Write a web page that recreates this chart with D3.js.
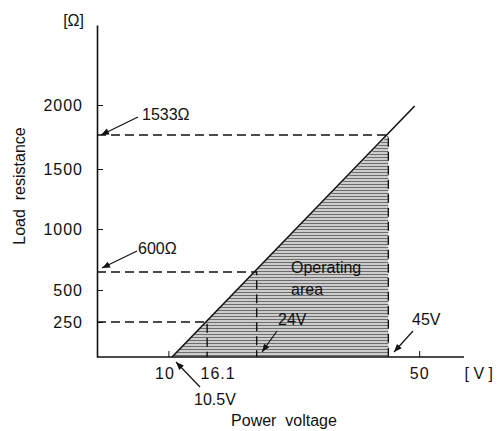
<!DOCTYPE html>
<html>
<head>
<meta charset="utf-8">
<script src="https://cdn.jsdelivr.net/npm/d3@7"></script>
<style>
  body { margin: 0; background: #fff; }
  text { font-family: "Liberation Sans", Arial, sans-serif; fill: #111; }
</style>
</head>
<body>
<svg id="chart" width="497" height="431"></svg>
<script>
// data
var yTicks = [250, 500, 1000, 1500, 2000];
var xTicks = [10, 50];
var xLabelValues = [10, 16.1, 50];
var xLabels = ["10", "16.1", "50"];
var curve = [{v: 10.5, r: 0}, {v: 49.2, r: 1985}];
var operating = [{v: 10.5, r: 0}, {v: 45, r: 1533}, {v: 45, r: 0}];
var marks = [{v: 16.1, r: 250}, {v: 24, r: 600}, {v: 45, r: 1533}];

var svg = d3.select("svg#chart");

// scales (the drawing is schematic, so y is piecewise)
var x = d3.scaleLinear().domain([0, 50]).range([106.2, 419.7]);
var y = d3.scaleLinear()
          .domain([0, 250, 500, 600, 1000, 1500, 1533, 2000, 2650])
          .range([357, 322, 290, 272, 229, 169, 135, 105, 25]);

var x0 = 97, y0 = y(0);

// defs: shading + arrow head
var defs = svg.append("defs");
var pat = defs.append("pattern")
              .attr("id", "shade")
              .attr("width", 3)
              .attr("height", 3)
              .attr("patternUnits", "userSpaceOnUse");
pat.append("rect").attr("width", 3).attr("height", 3).attr("fill", "#cdcdcd");
pat.append("line")
   .attr("x1", 0).attr("y1", 1.5).attr("x2", 3).attr("y2", 1.5)
   .attr("stroke", "#6e6e6e").attr("stroke-width", 1);

defs.append("marker")
    .attr("id", "arrow")
    .attr("viewBox", "0 -5 10 10")
    .attr("refX", 10)
    .attr("refY", 0)
    .attr("markerWidth", 10)
    .attr("markerHeight", 8)
    .attr("markerUnits", "userSpaceOnUse")
    .attr("orient", "auto")
    .append("path")
    .attr("d", "M0,-4L10,0L0,4Z")
    .attr("fill", "#111");

// operating area
svg.append("path")
   .datum(operating)
   .attr("d", d3.line().x(function(d) { return x(d.v); }).y(function(d) { return y(d.r); }))
   .attr("fill", "url(#shade)");

// dashed guides
svg.selectAll("path.guide")
   .data(marks)
   .enter().append("path")
   .attr("class", "guide")
   .attr("d", function(d) { return "M" + x0 + "," + y(d.r) + "H" + x(d.v) + "V" + y0; })
   .attr("fill", "none")
   .attr("stroke", "#111")
   .attr("stroke-width", 1.4)
   .attr("stroke-dasharray", "9,5");

// y axis
var yAxis = d3.axisLeft(y)
              .tickValues(yTicks)
              .tickFormat(d3.format("d"))
              .tickSize(-6)
              .tickSizeOuter(0)
              .tickPadding(14);
var gy = svg.append("g")
            .attr("transform", "translate(" + x0 + ",0)")
            .call(yAxis);
gy.select(".domain").attr("stroke", "#111").attr("stroke-width", 1.6);
gy.selectAll(".tick line").attr("stroke", "#111");
gy.selectAll(".tick text")
  .attr("font-size", 16)
  .attr("letter-spacing", 1)
  .style("font-family", "Liberation Sans, Arial, sans-serif")
  .attr("fill", "#111");

// x axis
svg.append("line")
   .attr("x1", x0).attr("y1", y0)
   .attr("x2", 464).attr("y2", y0)
   .attr("stroke", "#111")
   .attr("stroke-width", 1.6);

svg.selectAll("line.xtick")
   .data(xTicks)
   .enter().append("line")
   .attr("class", "xtick")
   .attr("x1", function(d) { return x(d); }).attr("x2", function(d) { return x(d); })
   .attr("y1", y0).attr("y2", y0 - 6)
   .attr("stroke", "#111");

svg.selectAll("text.xlab")
   .data(xLabelValues)
   .enter().append("text")
   .attr("class", "xlab")
   .attr("x", function(d) { return x(d) + (d === 16.1 ? 11 : d === 10 ? -4 : 0); })
   .attr("y", 379)
   .attr("text-anchor", "middle")
   .attr("font-size", 16)
   .attr("letter-spacing", 1)
   .text(function(d, i) { return xLabels[i]; });

// load line
svg.append("path")
   .datum(curve)
   .attr("d", d3.line().x(function(d) { return x(d.v); }).y(function(d) { return y(d.r); }))
   .attr("fill", "none")
   .attr("stroke", "#111")
   .attr("stroke-width", 1.6);

// unit labels + axis titles
svg.append("text").attr("x", 84).attr("y", 26).attr("text-anchor", "end")
   .attr("font-size", 16).text("[Ω]");
svg.append("text").attr("x", 493).attr("y", 379).attr("text-anchor", "end")
   .attr("font-size", 16).style("white-space", "pre").text("[ V ]");
svg.append("text").attr("x", 284).attr("y", 426).attr("text-anchor", "middle")
   .attr("font-size", 16).style("white-space", "pre").text("Power  voltage");
svg.append("text")
   .attr("transform", "translate(25,186) rotate(-90)")
   .attr("text-anchor", "middle")
   .attr("font-size", 16)
   .style("white-space", "pre")
   .text("Load  resistance");

// callouts
var callouts = [
  {t: "1533Ω", tx: 142, ty: 120, ax: 138, ay: 117, bx: 101, by: 135},
  {t: "600Ω",  tx: 138, ty: 254, ax: 137, ay: 251, bx: 102, by: 268},
  {t: "10.5V", tx: 194, ty: 405, ax: 200, ay: 387, bx: 176, by: 362},
  {t: "24V",   tx: 278, ty: 325, ax: 277, ay: 331, bx: 262, by: 352},
  {t: "45V",   tx: 412, ty: 325, ax: 413, ay: 331, bx: 394, by: 352}
];

svg.selectAll("line.callout")
   .data(callouts)
   .enter().append("line")
   .attr("class", "callout")
   .attr("x1", function(d) { return d.ax; }).attr("y1", function(d) { return d.ay; })
   .attr("x2", function(d) { return d.bx; }).attr("y2", function(d) { return d.by; })
   .attr("stroke", "#111")
   .attr("stroke-width", 1.2)
   .attr("marker-end", "url(#arrow)");

svg.selectAll("text.callout")
   .data(callouts)
   .enter().append("text")
   .attr("class", "callout")
   .attr("x", function(d) { return d.tx; })
   .attr("y", function(d) { return d.ty; })
   .attr("font-size", 16)
   .text(function(d) { return d.t; });

svg.append("text").attr("x", 291).attr("y", 273).attr("font-size", 16).text("Operating");
svg.append("text").attr("x", 291).attr("y", 295).attr("font-size", 16).text("area");
</script>
</body>
</html>
